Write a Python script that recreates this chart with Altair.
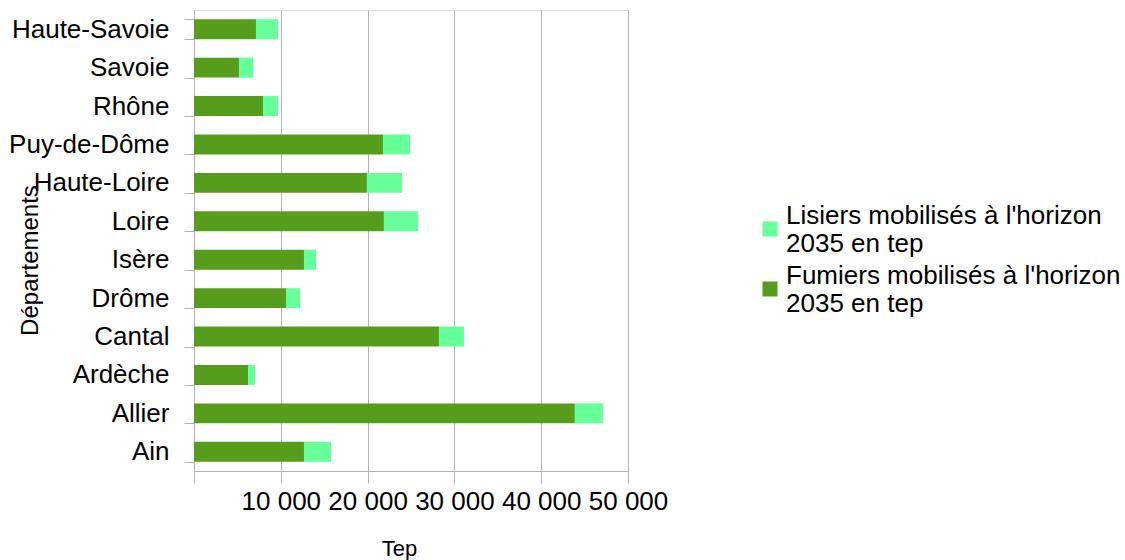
import altair as alt
import pandas as pd

departements = ["Ain", "Allier", "Ardèche", "Cantal", "Drôme", "Isère", "Loire",
                "Haute-Loire", "Puy-de-Dôme", "Rhône", "Savoie", "Haute-Savoie"]
fumiers = [12670, 43880, 6220, 28220, 10600, 12670, 21880, 19920, 21770, 7950, 5180, 7140]
lisiers = [3110, 3225, 805, 2880, 1610, 1380, 3920, 4035, 3110, 1725, 1615, 2535]
series = ["Lisiers mobilisés à l'horizon 2035 en tep",
          "Fumiers mobilisés à l'horizon 2035 en tep"]
colors = ["#66ff99", "#579d1c"]
x_ticks = [0, 10000, 20000, 30000, 40000, 50000]

rows = []
for d, f, l in zip(departements, fumiers, lisiers):
    rows.append({"dep": d, "serie": series[1], "val": f, "ord": 0})
    rows.append({"dep": d, "serie": series[0], "val": l, "ord": 1})
df = pd.DataFrame(rows)

FONT = "Liberation Sans"
GRID = "#b3b3b3"

chart = alt.Chart(df).mark_bar().encode(
    y=alt.Y("dep:N", sort=list(reversed(departements)),
            scale=alt.Scale(paddingInner=0.48, paddingOuter=0.24),
            axis=alt.Axis(title="Départements", tickBand="extent", tickSize=10,
                          tickColor=GRID, domainColor=GRID, labelPadding=15,
                          labelFontSize=26, labelFont=FONT, labelColor="black",
                          titleFont=FONT, titleFontSize=24, titleFontWeight="normal",
                          titleColor="black", titleAngle=-90, titleX=-164, titleY=250,
                          titleAlign="center", titleBaseline="middle", grid=False)),
    x=alt.X("val:Q", stack="zero",
            scale=alt.Scale(domain=[0, 50000], nice=False),
            axis=alt.Axis(title="Tep", values=x_ticks, tickSize=12, tickColor=GRID,
                          domainColor=GRID, gridColor=GRID, grid=True, gridWidth=1,
                          labelOverlap=False, labelFlush=False, labelBound=False,
                          labelExpr="datum.value == 0 ? '' : replace(format(datum.value, ',d'), ',', ' ')",
                          labelFontSize=26, labelFont=FONT, labelColor="black", labelPadding=5,
                          titleFont=FONT, titleFontSize=22, titleFontWeight="normal",
                          titleColor="black", titleX=205, titleY=77,
                          titleAlign="center", titleBaseline="middle")),
    color=alt.Color("serie:N", scale=alt.Scale(domain=series, range=colors),
                    legend=alt.Legend(title=None, orient="none", legendX=563, legendY=193,
                                      symbolType="M-1,0.73H1V2.73H-1Z", symbolSize=225,
                                      symbolStrokeWidth=0, symbolOpacity=1,
                                      labelFont=FONT, labelFontSize=26, labelColor="black",
                                      labelOffset=3, rowPadding=6, labelLimit=400,
                                      labelExpr="[replace(datum.label, ' 2035 en tep', ''), '2035 en tep']")),
    order=alt.Order("ord:Q", sort="ascending"),
).properties(
    width=434, height=461,
    autosize=alt.AutoSizeParams(type="none"),
    padding={"left": 194, "top": 10, "right": 497, "bottom": 89},
).configure_view(stroke=GRID, strokeWidth=1).configure(background="white")

chart.save("out.html", embed_options={"renderer": "svg", "actions": False})
